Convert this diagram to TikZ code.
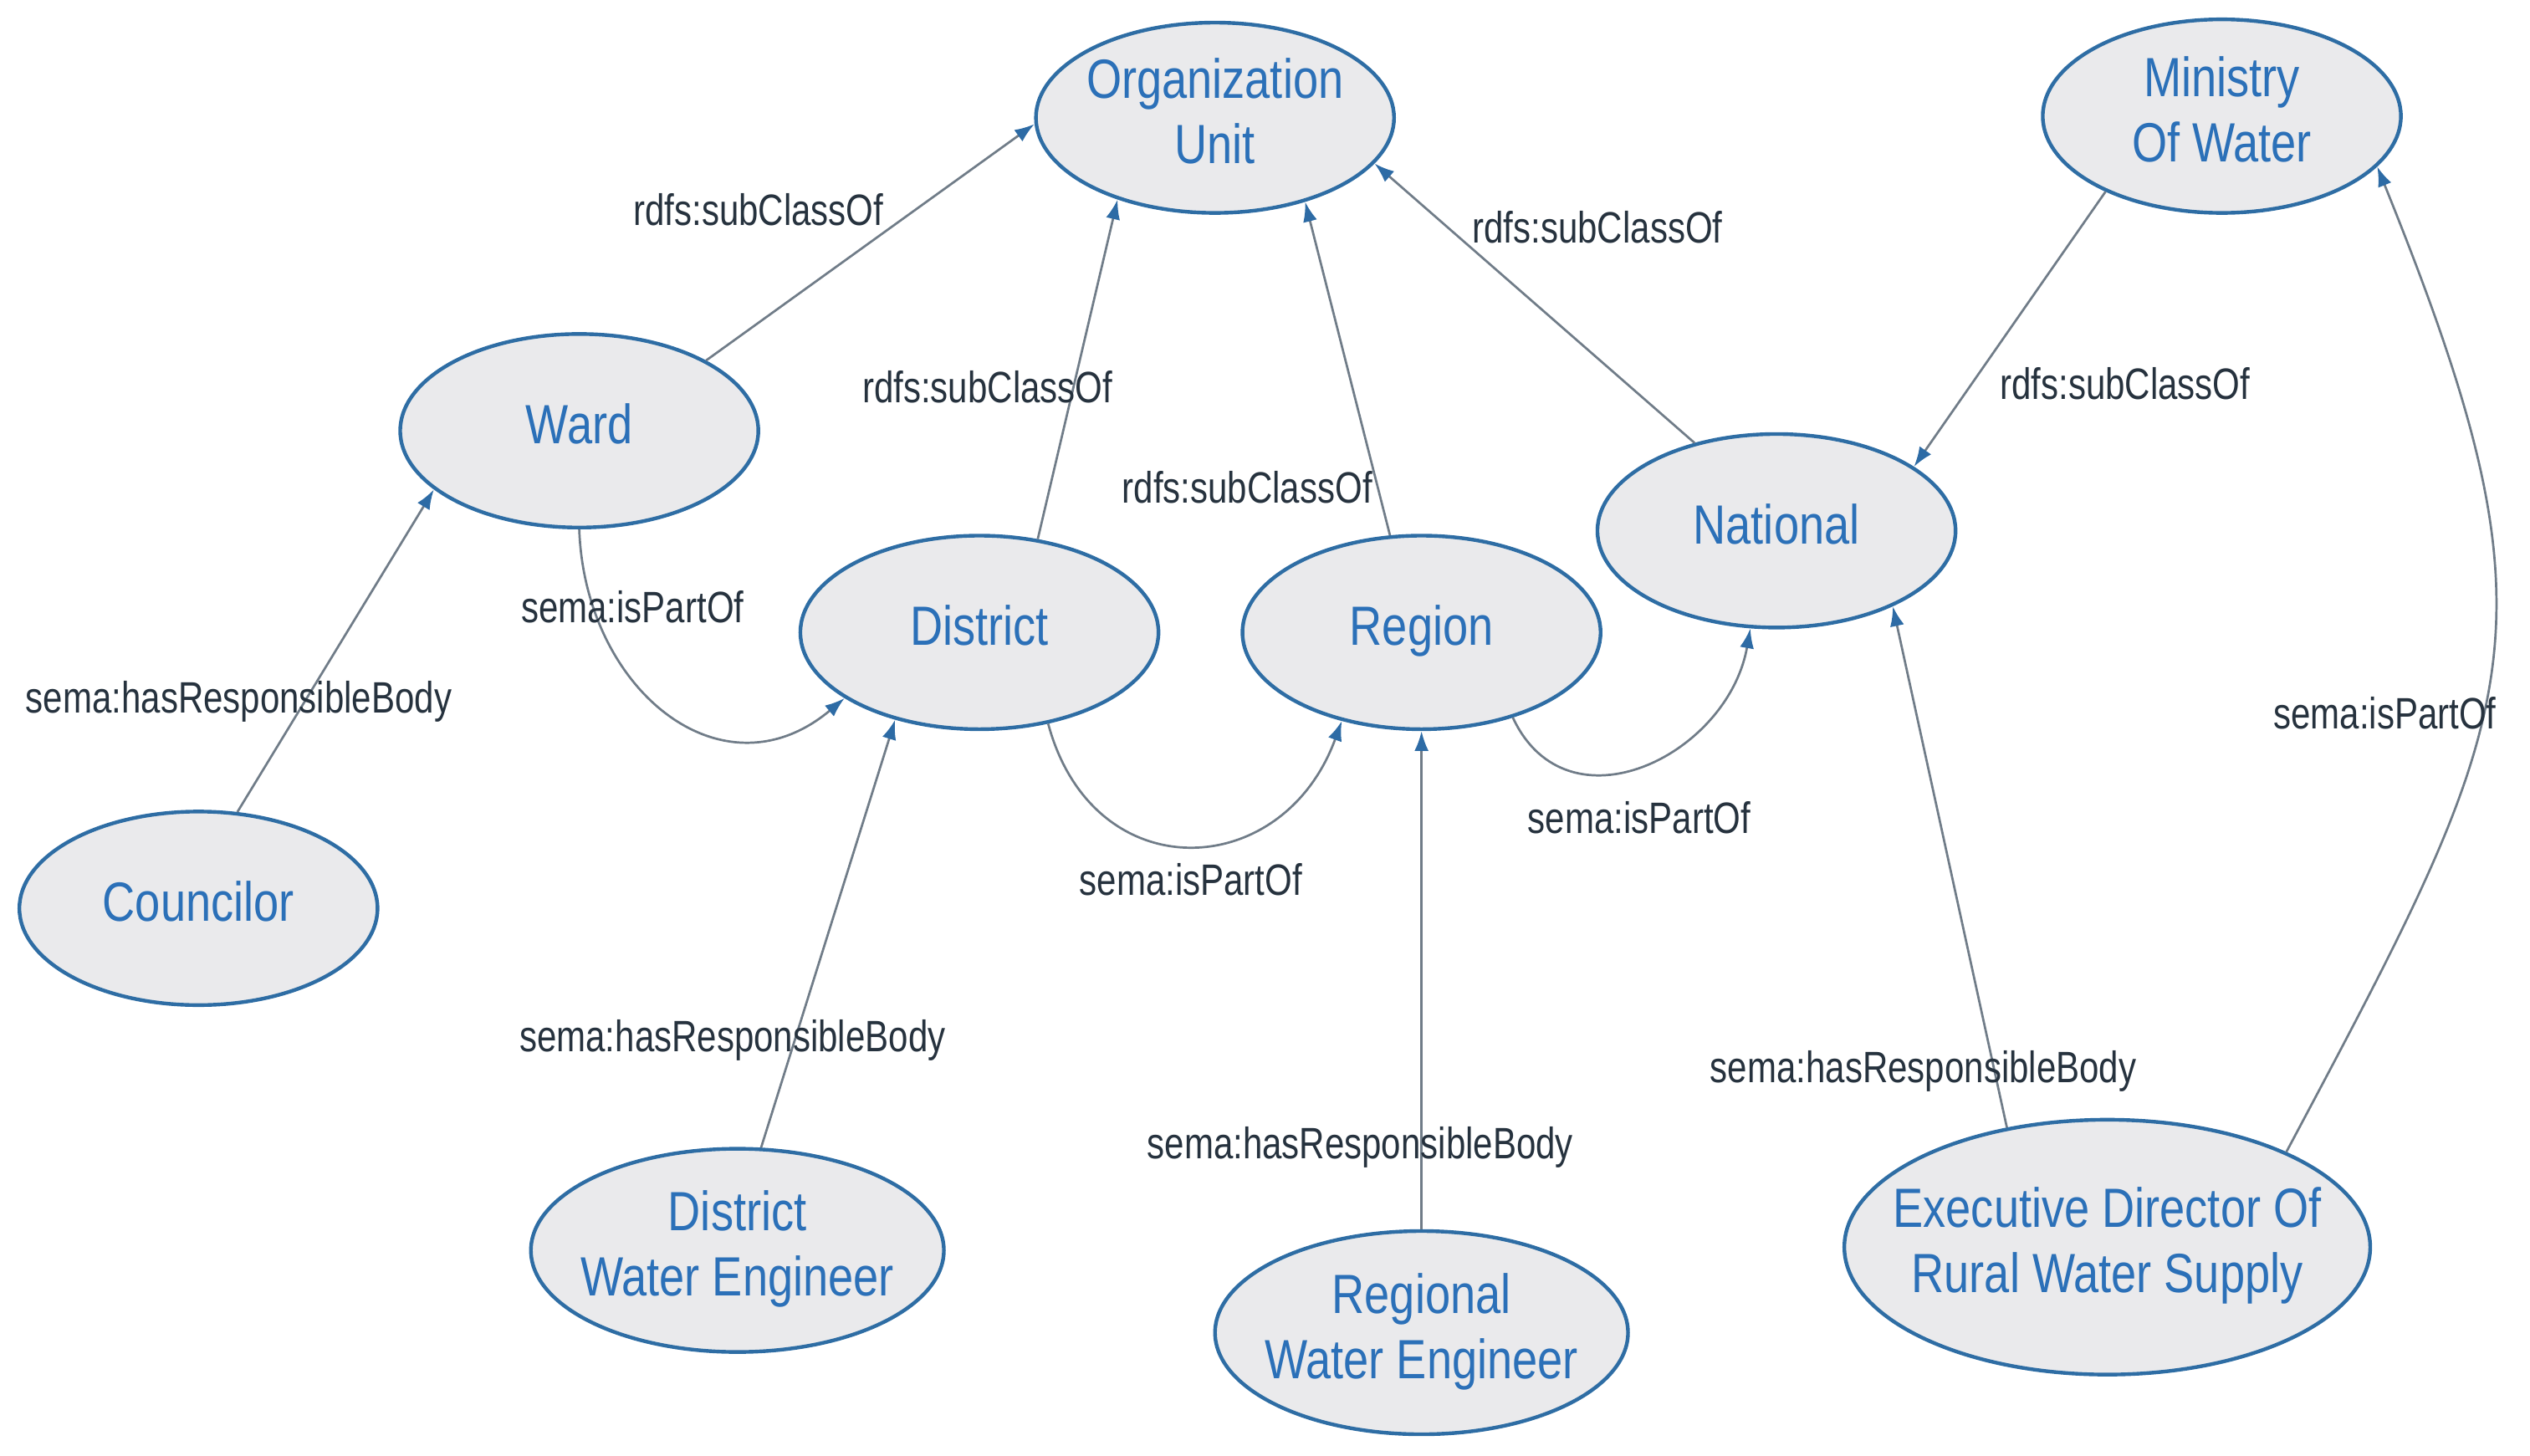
\documentclass[tikz,border=0pt]{standalone}
\usepackage{fontspec}
\setmainfont{Liberation Sans}
\newfontfamily\ovfont[FakeStretch=0.82]{Liberation Sans}
\newfontfamily\relfont[FakeStretch=0.8]{Liberation Sans}
\usepackage{tikz}
\usetikzlibrary{shapes.geometric,arrows.meta}

\definecolor{ovfill}{RGB}{234,234,236}
\definecolor{ovborder}{RGB}{46,109,164}
\definecolor{ovblue}{RGB}{43,112,184}
\definecolor{lbltext}{RGB}{38,50,62}
\definecolor{relline}{RGB}{112,124,136}
\definecolor{tipblue}{RGB}{45,107,165}

\tikzset{
  oval/.style={ellipse, draw=ovborder, line width=1.3pt, fill=ovfill, text=ovblue,
    inner sep=0pt, minimum width=4.44cm, minimum height=2.4cm,
    font=\ovfont\fontsize{19.5}{23}\selectfont},
  bigoval/.style={oval, minimum width=5.12cm, minimum height=2.52cm},
  rel/.style={draw=relline, line width=0.8pt, -{Latex[length=7pt,width=5pt,color=tipblue]}},
  lbl/.style={text=lbltext, inner sep=1pt, font=\relfont\fontsize{15.5}{18}\selectfont}
}
\newcommand{\ovl}[1]{\makebox[0pt]{\raisebox{-2.3pt}{\begin{tabular}{@{}c@{}}#1\end{tabular}}}}

\begin{document}
\begin{tikzpicture}[x=0.02cm, y=0.02cm]
  \useasboundingbox (0,0) rectangle (1568,902);

  % classes
  \node[oval, minimum height=2.36cm] (org) at (753,829) {\ovl{Organization\\Unit}};
  \node[oval] (min) at (1377,830) {\ovl{Ministry\\Of Water}};
  \node[oval] (ward) at (359,635) {\ovl{Ward}};
  \node[oval] (dist) at (607,510) {\ovl{District}};
  \node[oval] (reg) at (881,510) {\ovl{Region}};
  \node[oval] (nat) at (1101,573) {\ovl{National}};
  \node[oval] (coun) at (123,339) {\ovl{Councilor}};
  \node[bigoval] (dwe) at (457,127) {\ovl{District\\Water Engineer}};
  \node[bigoval] (rwe) at (881,76) {\ovl{Regional\\Water Engineer}};
  \node[oval, minimum width=6.52cm, minimum height=3.16cm] (edr) at (1306,129) {\ovl{Executive Director Of\\Rural Water Supply}};

  % subclass links
  \draw[rel] (ward.29) -- (org.182) node[lbl] at (470,772) {rdfs:subClassOf};
  \draw[rel] (dist.58) -- (org.-140) node[lbl] at (612,662) {rdfs:subClassOf};
  \draw[rel] (reg.108) -- (org.-43) node[lbl] at (773,600) {rdfs:subClassOf};
  \draw[rel] (nat.133) -- (org.-16) node[lbl] at (990,761) {rdfs:subClassOf};
  \draw[rel] (min.-147) -- (nat.25) node[lbl] at (1317,664) {rdfs:subClassOf};

  % responsible bodies
  \draw[rel] (coun.68) -- (ward.-158) node[lbl] at (148,467) {sema:hasResponsibleBody};
  \draw[rel] (dwe.77) -- (dist.-134) node[lbl] at (454,257) {sema:hasResponsibleBody};
  \draw[rel] (rwe.90) -- (reg.-90) node[lbl] at (843,191) {sema:hasResponsibleBody};
  \draw[rel] (edr.130) -- (nat.-33) node[lbl] at (1192,238) {sema:hasResponsibleBody};

  % part of
  \draw[rel] (ward.-90) to[out=-88, in=-140, looseness=1.3] (dist.-154)
    node[lbl] at (392,526) {sema:isPartOf};
  \draw[rel] (dist.-53) to[out=-75, in=-110, looseness=1.5] (reg.-132)
    node[lbl] at (738,357) {sema:isPartOf};
  \draw[rel] (reg.-43) to[out=-65, in=-100, looseness=1.3] (nat.-105)
    node[lbl] at (1016,395) {sema:isPartOf};
  \draw[rel] (edr.28) to[out=62, in=-68, looseness=1.3] (min.-18)
    node[lbl] at (1478,460) {sema:isPartOf};
\end{tikzpicture}
\end{document}
